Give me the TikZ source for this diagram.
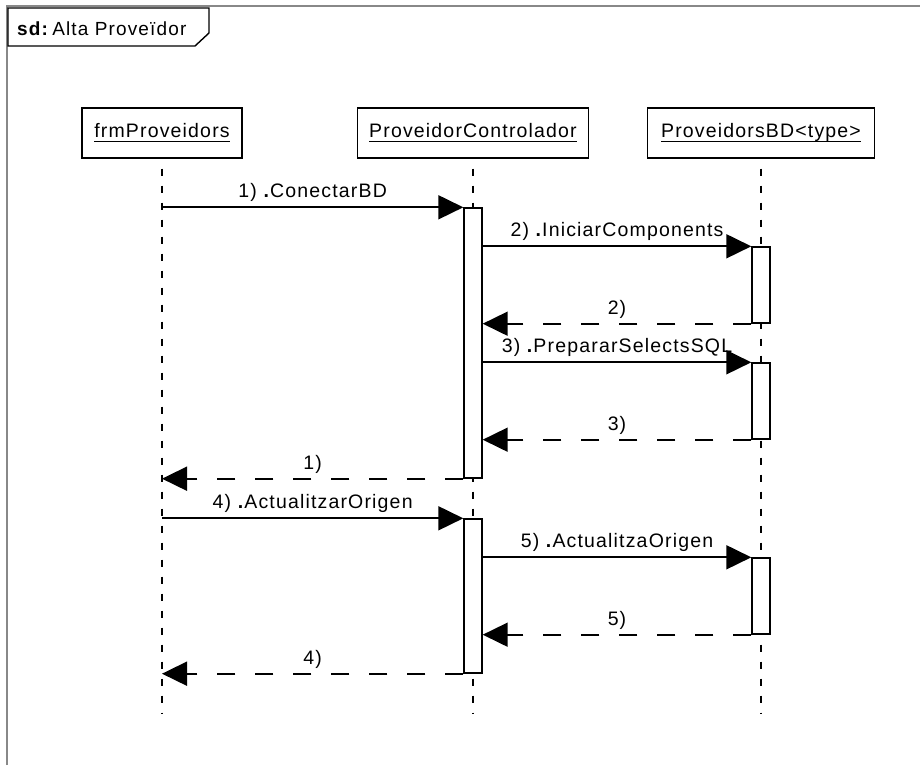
\documentclass[tikz,border=0pt]{standalone}
\usepackage{fontspec}
\setmainfont{Liberation Sans}[LetterSpace=6]
\usetikzlibrary{arrows.meta}
% underlined object name with a fixed rule position
\newcommand\ulbl[1]{\setbox0\hbox{#1}\rlap{\rule[-4.5pt]{\wd0}{1.3pt}}\box0}
\begin{document}
\begin{tikzpicture}[x=1pt,y=-1pt,
  every node/.style={font=\fontsize{19.5}{23}\selectfont},
  framestyle/.style={line width=2pt, draw={rgb,255:red,136;green,136;blue,136}},
  head/.style={draw, line width=1.4pt, minimum height=50pt, inner sep=0pt},
  life/.style={line width=1.4pt, dash pattern=on 7pt off 10pt, dash phase=7pt},
  bar/.style={draw, fill=white, line width=1.4pt, minimum width=18pt, inner sep=0pt},
  call/.style={line width=1.8pt, -{Triangle[length=25pt,width=24pt]}},
  reply/.style={call, dash pattern=on 18pt off 20pt},
  lbl/.style={anchor=base, yshift=9.5pt, inner sep=0pt}]
\useasboundingbox (0,0) rectangle (920,765);

% diagram frame and its name tab
\draw[framestyle] (6.5,765) -- (6.5,6.5) -- (920,6.5);
\draw[line width=1.4pt, fill=white] (8,8) -- (209,8) -- (209,33) -- (195,46) -- (8,46) -- cycle;
\node[anchor=base west, inner sep=0pt, font=\fontsize{19}{22}\selectfont] (sdname) at (17,36)
  {\textbf{sd:}\,Alta Proveïdor};

% lifeline heads
\node[head, minimum width=160pt] (f) at (162,133) {\ulbl{frmProveidors}};
\node[head, minimum width=231pt] (c) at (473,133) {\ulbl{ProveidorControlador}};
\node[head, minimum width=227pt] (d) at (761,133) {\ulbl{ProveidorsBD<type>}};

% lifelines
\coordinate (lifeEnd) at (0,713);
\draw[life] (f.south) -- (f.south |- lifeEnd);
\draw[life] (c.south) -- (c.south |- lifeEnd);
\draw[life] (d.south) -- (d.south |- lifeEnd);

% activation bars
\node[bar, minimum height=270pt] (a1) at (473,343) {};
\node[bar, minimum height=154pt] (a2) at (473,596) {};
\node[bar, minimum height=76pt] (b1) at (761,285) {};
\node[bar, minimum height=76pt] (b2) at (761,401) {};
\node[bar, minimum height=76pt] (b3) at (761,596) {};

% messages
\draw[call] (f |- a1.north) -- node[lbl] {1) \textbf{.}ConectarBD} (a1.north west);
\draw[call] (a1.east |- b1.north) -- node[lbl] {2) \textbf{.}IniciarComponents} (b1.north west);
\draw[reply] (b1.south west) -- node[lbl] {2)} (a1.east |- b1.south);
\draw[call] (a1.east |- b2.north) -- node[lbl] {3) \textbf{.}PrepararSelectsSQL} (b2.north west);
\draw[reply] (b2.south west) -- node[lbl] {3)} (a1.east |- b2.south);
\draw[reply] (a1.south west) -- node[lbl] {1)} (f |- a1.south);
\draw[call] (f |- a2.north) -- node[lbl] {4) \textbf{.}ActualitzarOrigen} (a2.north west);
\draw[call] (a2.east |- b3.north) -- node[lbl] {5) \textbf{.}ActualitzaOrigen} (b3.north west);
\draw[reply] (b3.south west) -- node[lbl] {5)} (a2.east |- b3.south);
\draw[reply] (a2.south west) -- node[lbl] {4)} (f |- a2.south);
\end{tikzpicture}
\end{document}
